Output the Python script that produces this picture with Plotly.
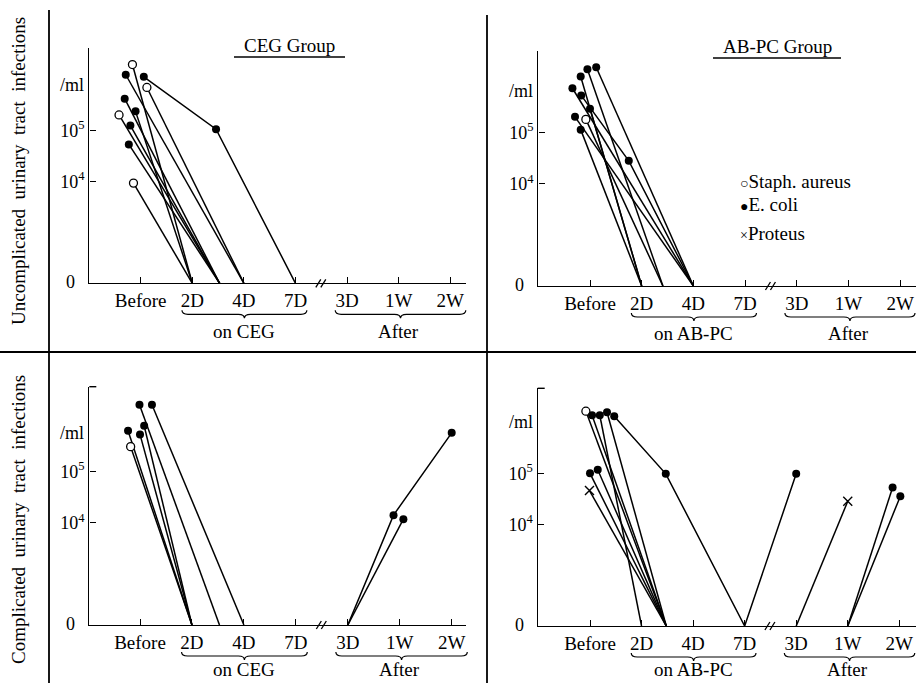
import plotly.graph_objects as go

W, H = 916, 683
FONT = "Liberation Serif"
INK = "black"

# ---------------- data ----------------
cats = ["Before", "2D", "4D", "7D", "3D", "1W", "2W"]
ytick_vals = [4, 5]
ytick_text = ["10<sup>4</sup>", "10<sup>5</sup>"]
# y values are log10(count/ml); 2 is the "0" baseline
# symbols: "o" Staph. aureus, "f" E. coli, "x" Proteus, "" no marker

ceg_unc_x = [[-0.16, 1.0], [-0.29, 2.0], [0.06, 1.46, 3.0], [0.12, 2.0], [-0.31, 1.53],
             [-0.42, 1.53], [-0.10, 1.0], [-0.20, 1.53], [-0.23, 1.53], [-0.14, 1.0]]
ceg_unc_y = [[6.30, 2], [6.10, 2], [6.06, 5.03, 2], [5.85, 2], [5.63, 2],
             [5.31, 2], [5.38, 2], [5.10, 2], [4.73, 2], [3.97, 2]]
ceg_unc_s = [["o", ""], ["f", ""], ["f", "f", ""], ["o", ""], ["f", ""],
             ["o", ""], ["f", ""], ["f", ""], ["f", ""], ["o", ""]]

abpc_unc_x = [[0.12, 2.0], [-0.05, 1.41], [-0.18, 1.0], [-0.34, 2.0], [-0.17, 0.75, 2.0],
              [0.0, 1.0], [-0.29, 2.0], [-0.08, 1.41], [-0.18, 1.0]]
abpc_unc_y = [[6.28, 2], [6.24, 2], [6.10, 2], [5.87, 2], [5.73, 4.45, 2],
              [5.47, 2], [5.31, 2], [5.26, 2], [5.06, 2]]
abpc_unc_s = [["f", ""], ["f", ""], ["f", ""], ["f", ""], ["f", "f", ""],
              ["f", ""], ["f", ""], ["o", ""], ["f", ""]]

ceg_com_x = [[-0.01, 1.53], [0.23, 2.0], [0.08, 1.0], [-0.23, 1.0], [0.0, 1.0],
             [-0.18, 1.0], [4.0, 4.88, 6.0], [4.0, 5.07]]
ceg_com_y = [[6.31, 2], [6.31, 2], [5.90, 2], [5.80, 2], [5.73, 2],
             [5.49, 2], [2, 4.15, 5.76], [2, 4.07]]
ceg_com_s = [["f", ""], ["f", ""], ["f", ""], ["f", ""], ["f", ""],
             ["o", ""], ["", "f", "f"], ["", "f"]]

abpc_com_x = [[-0.08, 1.48], [0.04, 1.48], [0.19, 1.0], [0.33, 1.48], [0.47, 1.47, 3.0, 4.0],
              [0.0, 1.48], [0.15, 1.48], [-0.01, 1.48], [4.0, 5.0], [5.0, 5.87], [5.0, 6.02]]
abpc_com_y = [[6.22, 2], [6.14, 2], [6.14, 2], [6.20, 2], [6.12, 4.99, 2, 4.99],
              [5.00, 2], [5.07, 2], [4.66, 2], [2, 4.45], [2, 4.72], [2, 4.55]]
abpc_com_s = [["o", ""], ["f", ""], ["f", ""], ["f", ""], ["f", "f", "", "f"],
              ["f", ""], ["f", ""], ["x", ""], ["", "x"], ["", "f"], ["", "f"]]

titles = ["CEG Group", "AB-PC Group", "", ""]
brace_labels = ["on CEG", "on AB-PC", "on CEG", "on AB-PC"]
row_labels = ["Uncomplicated  urinary  tract  infections", "Complicated  urinary  tract  infections"]
legend_items = [("○", "Staph. aureus"), ("●", "E. coli"), ("×", "Proteus")]

# ---------------- layout geometry (pixels) ----------------
geom = [
    dict(x0=89.3, before=140.7, step=51.6, right=466, zero=283.3, e5=130.7, top=48),
    dict(x0=538.3, before=590, step=51.7, right=916, zero=286, e5=132.7, top=50.7),
    dict(x0=89.3, before=140, step=51.95, right=466, zero=625, e5=471.7, top=386.7),
    dict(x0=537.7, before=590, step=51.55, right=916, zero=626, e5=473.3, top=388.3),
]
panels = [(ceg_unc_x, ceg_unc_y, ceg_unc_s), (abpc_unc_x, abpc_unc_y, abpc_unc_s),
          (ceg_com_x, ceg_com_y, ceg_com_s), (abpc_com_x, abpc_com_y, abpc_com_s)]


def fx(px):
    return px / W


def fy(py):
    return (H - py) / H


def dx(g, v):
    return g["before"] + v * g["step"]


fig = go.Figure()
shapes = []
annotations = []
LW = 1.4

for i, (g, (xs, ys, ss)) in enumerate(zip(geom, panels)):
    n = "" if i == 0 else str(i + 1)
    xa, ya = "x" + n, "y" + n
    dec = (g["zero"] - g["e5"]) / 3.0
    xr = [(g["x0"] - g["before"]) / g["step"], (g["right"] - g["before"]) / g["step"]]
    yr = [2, 5 + (g["e5"] - g["top"]) / dec]
    fig.update_layout(**{
        "xaxis" + n: dict(domain=[fx(g["x0"]), fx(g["right"])], range=xr, anchor=ya,
                          showline=True, linecolor=INK, linewidth=LW, showgrid=False, zeroline=False,
                          tickvals=list(range(len(cats))), ticktext=cats, ticks="inside",
                          ticklen=6, tickwidth=1.3, tickcolor=INK,
                          tickfont=dict(family=FONT, size=19, color=INK)),
        "yaxis" + n: dict(domain=[fy(g["zero"]), fy(g["top"])], range=yr, anchor=xa,
                          showline=True, linecolor=INK, linewidth=LW, showgrid=False, zeroline=False,
                          tickvals=ytick_vals, ticktext=ytick_text, ticks="inside",
                          ticklen=6, tickwidth=1.3, tickcolor=INK,
                          tickfont=dict(family=FONT, size=18, color=INK)),
    })
    for lx, ly, ls in zip(xs, ys, ss):
        fig.add_trace(go.Scatter(x=lx, y=ly, mode="lines", xaxis=xa, yaxis=ya,
                                 line=dict(color=INK, width=1.5), showlegend=False,
                                 hoverinfo="skip"))
        for sym in ("f", "o", "x"):
            px_ = [a for a, s in zip(lx, ls) if s == sym]
            py_ = [b for b, s in zip(ly, ls) if s == sym]
            if not px_:
                continue
            if sym == "o":
                mk = dict(symbol="circle", size=8, color="white", line=dict(color=INK, width=1.3))
            elif sym == "f":
                mk = dict(symbol="circle", size=8, color=INK)
            else:
                mk = dict(symbol="x-thin-open", size=9, color=INK, line=dict(color=INK, width=1.4))
            fig.add_trace(go.Scatter(x=px_, y=py_, mode="markers", xaxis=xa, yaxis=ya,
                                     marker=mk, showlegend=False, hoverinfo="skip"))

    # "0" and "/ml" labels
    annotations.append(dict(x=fx(g["x0"] - 12), y=fy(g["zero"] - 1), xref="paper", yref="paper",
                            text="0", showarrow=False, xanchor="right", yanchor="middle",
                            font=dict(family=FONT, size=18, color=INK)))
    ml_py = [85, 90.7, 433, 421.7][i]
    annotations.append(dict(x=fx(g["x0"] - 3), y=fy(ml_py), xref="paper", yref="paper",
                            text="/ml", showarrow=False, xanchor="right", yanchor="middle",
                            font=dict(family=FONT, size=18, color=INK)))

    # axis break marks
    bx = dx(g, 3.5)
    for off in (-3, 2):
        shapes.append(dict(type="line", xref="paper", yref="paper",
                           x0=fx(bx + off - 2.5), y0=fy(g["zero"] + 4),
                           x1=fx(bx + off + 2.5), y1=fy(g["zero"] - 4),
                           line=dict(color=INK, width=1.3)))

    # top bracket on lower panels
    if i >= 2:
        shapes.append(dict(type="line", xref="paper", yref="paper",
                           x0=fx(g["x0"]), y0=fy(g["top"]), x1=fx(g["x0"] + 7), y1=fy(g["top"]),
                           line=dict(color=INK, width=LW)))

    # braces
    btop = g["zero"] + 27
    for (c0, c1, lab, cc) in ((0.8, 3.22, brace_labels[i], 2.0),
                              (3.77, 6.3, "After", 5.0)):
        x0p, x1p = dx(g, c0), min(dx(g, c1), W - 1)
        xc = (x0p + x1p) / 2
        ym, yb, r = btop + 4, btop + 8, 6
        path = (f"M {fx(x0p)},{fy(btop)} Q {fx(x0p)},{fy(ym)} {fx(x0p + r)},{fy(ym)} "
                f"L {fx(xc - r)},{fy(ym)} Q {fx(xc)},{fy(ym)} {fx(xc)},{fy(yb)} "
                f"Q {fx(xc)},{fy(ym)} {fx(xc + r)},{fy(ym)} L {fx(x1p - r)},{fy(ym)} "
                f"Q {fx(x1p)},{fy(ym)} {fx(x1p)},{fy(btop)}")
        shapes.append(dict(type="path", xref="paper", yref="paper", path=path,
                           line=dict(color=INK, width=1.2)))
        annotations.append(dict(x=fx(dx(g, cc)), y=fy(min(btop + 21, 669)), xref="paper",
                                yref="paper", text=lab, showarrow=False, xanchor="center",
                                yanchor="middle", font=dict(family=FONT, size=19, color=INK)))

# titles with underline
for (txt, cx, cy, ux0, ux1, uy) in ((titles[0], 289, 46, 234, 345, 57),
                                    (titles[1], 777, 47, 713, 841, 58)):
    annotations.append(dict(x=fx(cx), y=fy(cy), xref="paper", yref="paper", text=txt,
                            showarrow=False, xanchor="center", yanchor="middle",
                            font=dict(family=FONT, size=19, color=INK)))
    shapes.append(dict(type="line", xref="paper", yref="paper", x0=fx(ux0), x1=fx(ux1),
                       y0=fy(uy), y1=fy(uy), line=dict(color=INK, width=1.3)))

# legend
for (sym, lab), ly in zip(legend_items, (181, 204, 233)):
    annotations.append(dict(x=fx(738), y=fy(ly), xref="paper", yref="paper",
                            text=f"<span style='font-size:14px'>{sym}</span>{lab}",
                            showarrow=False, xanchor="left", yanchor="middle",
                            font=dict(family=FONT, size=19, color=INK)))

# row labels
for lab, cy in zip(row_labels, (171, 520)):
    annotations.append(dict(x=fx(18), y=fy(cy), xref="paper", yref="paper", text=lab,
                            textangle=-90, showarrow=False, xanchor="center", yanchor="middle",
                            font=dict(family=FONT, size=19, color=INK)))

# frame lines
shapes += [
    dict(type="line", xref="paper", yref="paper", x0=fx(49), x1=fx(49), y0=fy(10), y1=fy(683),
         line=dict(color=INK, width=1.8)),
    dict(type="line", xref="paper", yref="paper", x0=fx(487), x1=fx(487), y0=fy(15), y1=fy(683),
         line=dict(color=INK, width=1.8)),
    dict(type="line", xref="paper", yref="paper", x0=0, x1=1, y0=fy(352), y1=fy(352),
         line=dict(color=INK, width=1.8)),
]

fig.update_layout(width=W, height=H, margin=dict(l=0, r=0, t=0, b=0),
                  paper_bgcolor="white", plot_bgcolor="white",
                  shapes=shapes, annotations=annotations, showlegend=False,
                  font=dict(family=FONT, color=INK))
fig.write_html("out.html", config={"displayModeBar": False},
               post_script="document.body.style.margin='0px';document.body.style.overflow='hidden';")
